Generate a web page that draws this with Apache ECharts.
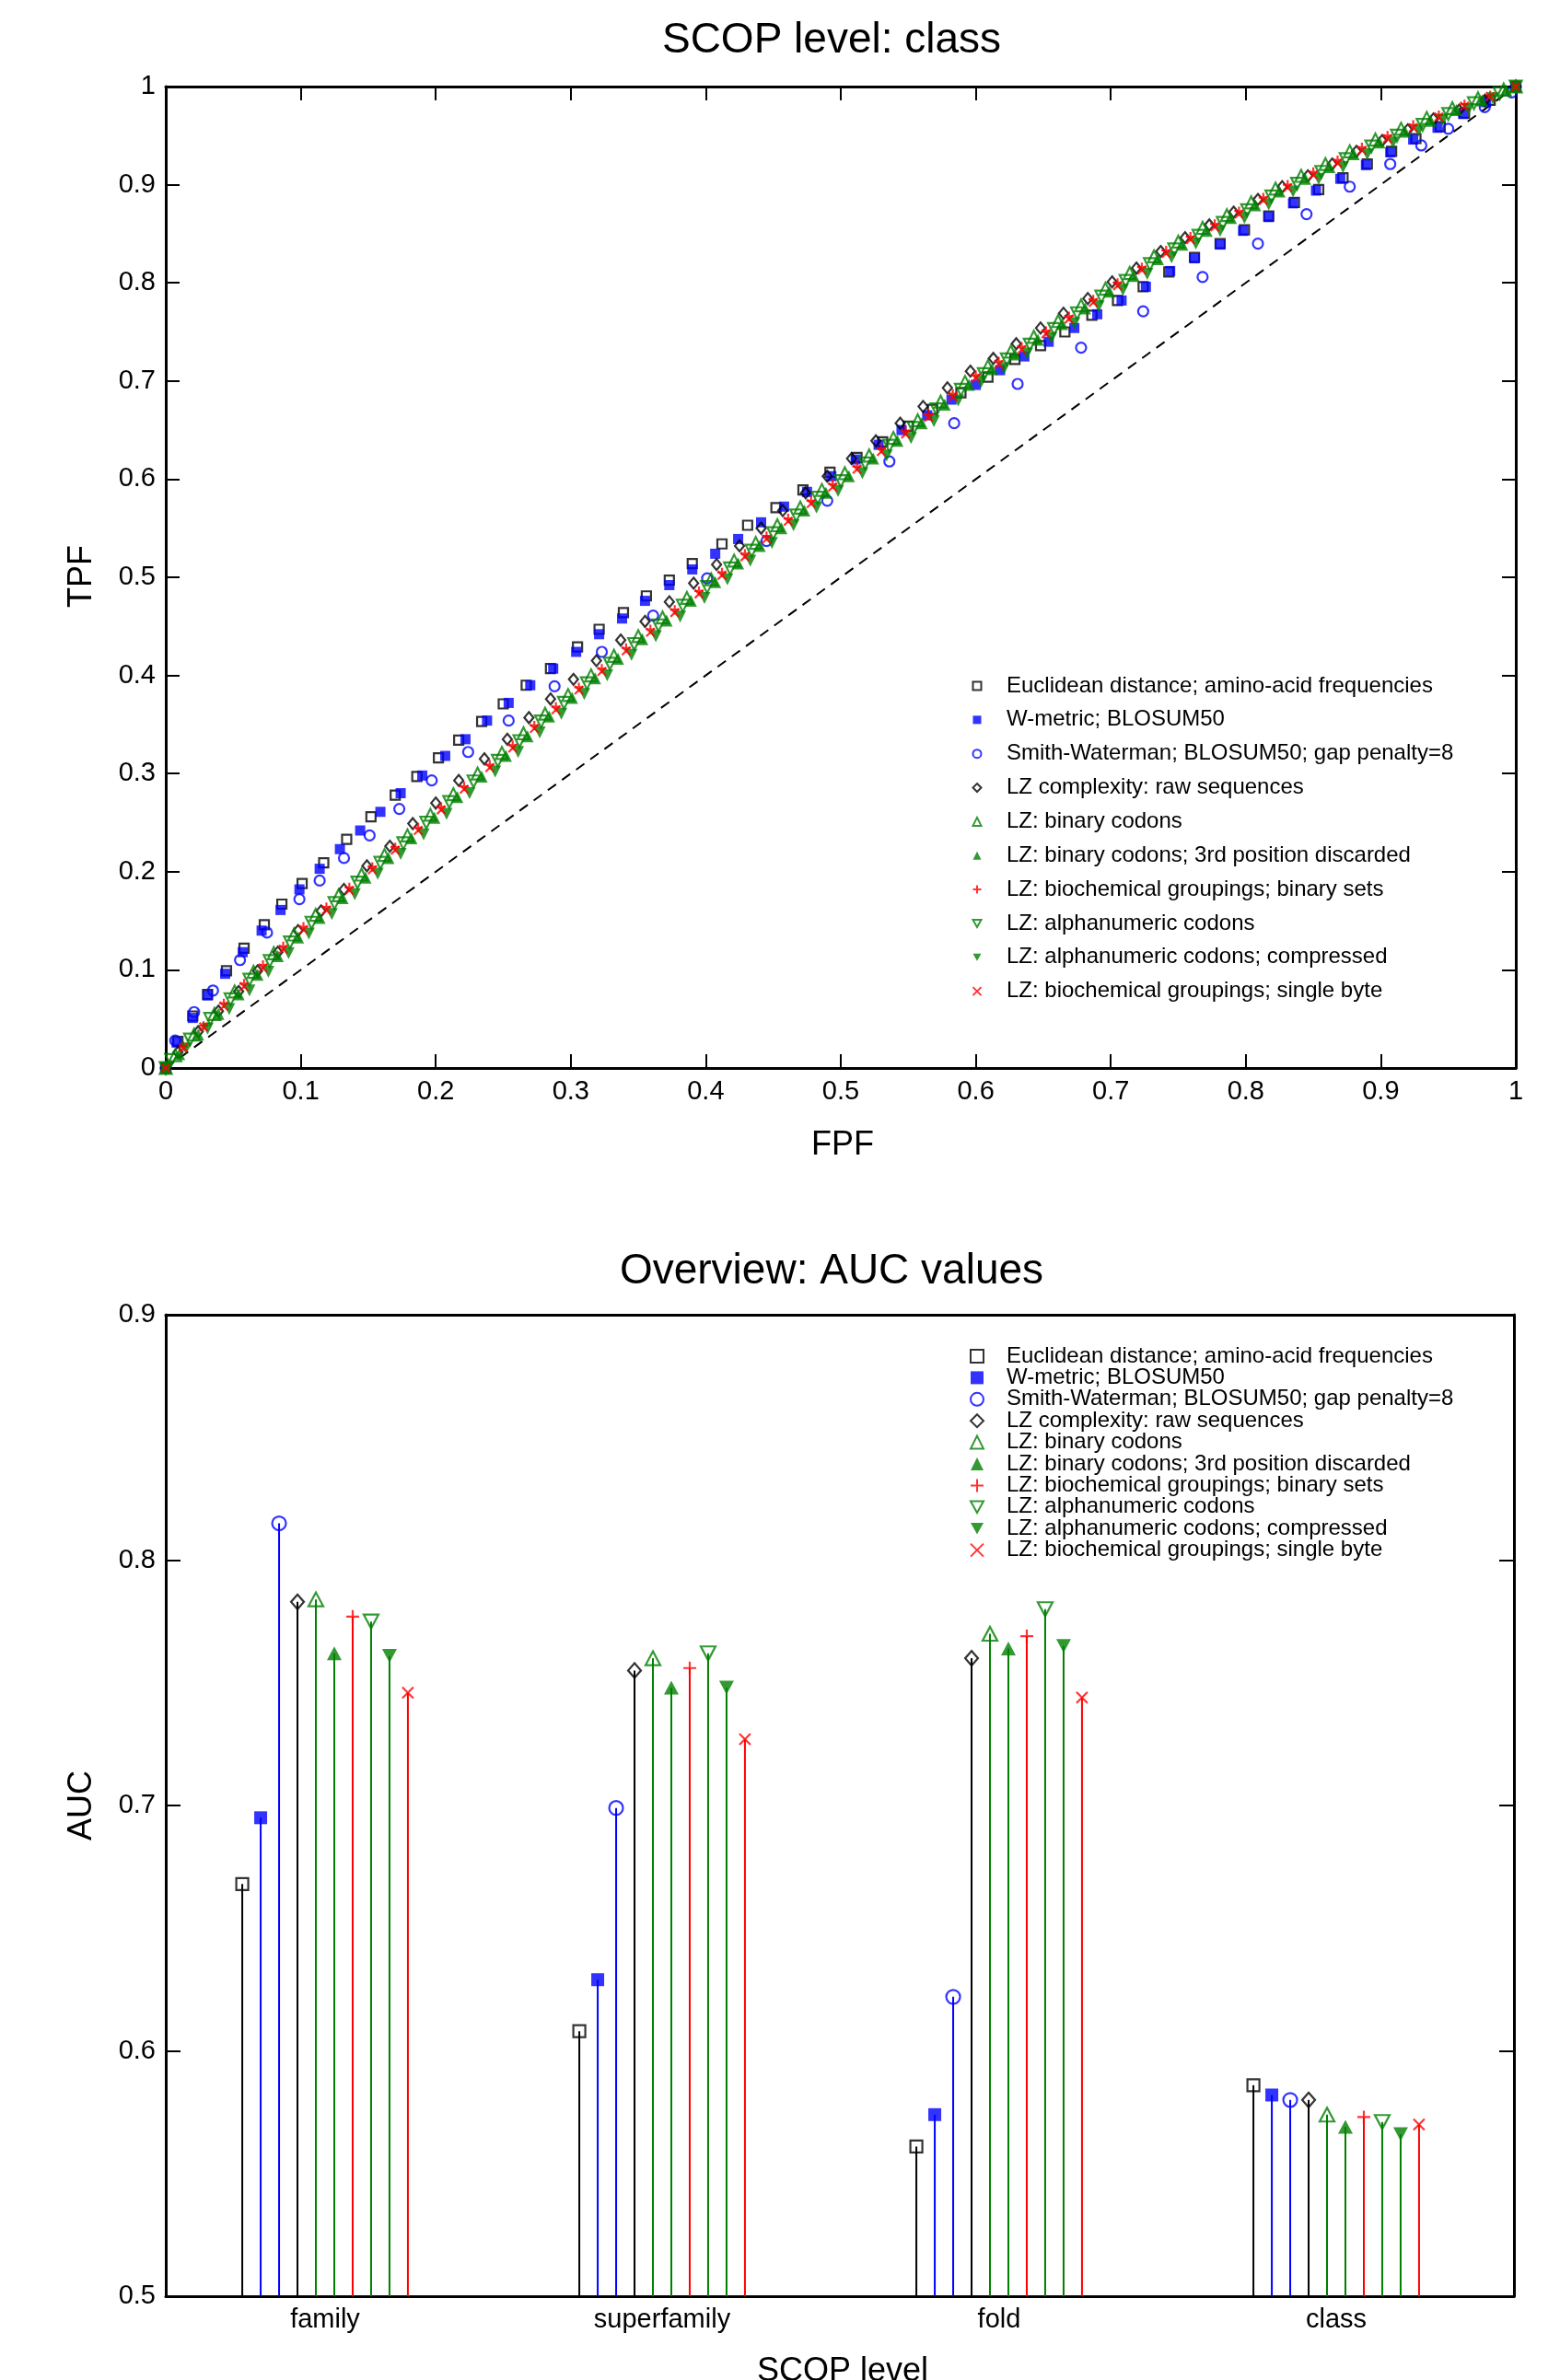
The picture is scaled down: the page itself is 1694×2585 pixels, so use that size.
<!DOCTYPE html>
<html lang="en">
<head>
<meta charset="UTF-8" />
<title>SCOP level: class / AUC overview</title>
<script src="https://cdn.jsdelivr.net/npm/echarts@6/dist/echarts.min.js"></script>
<style>
  html, body { margin: 0; padding: 0; background: #fff; }
  #chart { width: 1694px; height: 2585px; }
</style>
</head>
<body>
<div id="chart"></div>
<script>
// method names (legend order)
const methods = [
  "Euclidean distance; amino-acid frequencies",
  "W-metric; BLOSUM50",
  "Smith-Waterman; BLOSUM50; gap penalty=8",
  "LZ complexity: raw sequences",
  "LZ: binary codons",
  "LZ: binary codons; 3rd position discarded",
  "LZ: biochemical groupings; binary sets",
  "LZ: alphanumeric codons",
  "LZ: alphanumeric codons; compressed",
  "LZ: biochemical groupings; single byte"
];
const levels = ["family", "superfamily", "fold", "class"];

// ROC points [FPF, TPF], SCOP level: class
const rocEuclid = [[0,0],[0.009,0.027],[0.020,0.053],[0.031,0.075],[0.045,0.099],[0.058,0.122],[0.073,0.146],[0.086,0.167],[0.101,0.188],[0.117,0.209],[0.134,0.233],[0.152,0.256],[0.170,0.278],[0.186,0.297],[0.202,0.316],[0.217,0.334],[0.234,0.353],[0.250,0.371],[0.267,0.390],[0.285,0.407],[0.305,0.429],[0.321,0.447],[0.339,0.464],[0.356,0.481],[0.373,0.497],[0.390,0.514],[0.412,0.534],[0.431,0.553],[0.452,0.571],[0.472,0.589],[0.492,0.607],[0.512,0.622],[0.531,0.638],[0.550,0.654],[0.568,0.671],[0.589,0.688],[0.609,0.704],[0.629,0.722],[0.648,0.736],[0.666,0.750],[0.686,0.767],[0.705,0.782],[0.724,0.796],[0.743,0.811],[0.762,0.826],[0.781,0.840],[0.799,0.854],[0.817,0.868],[0.836,0.882],[0.854,0.895],[0.872,0.907],[0.890,0.921],[0.908,0.934],[0.926,0.947],[0.944,0.959],[0.962,0.973],[0.981,0.986],[1,1]];
const rocWmetric = [[0,0],[0.008,0.026],[0.020,0.051],[0.031,0.074],[0.044,0.096],[0.057,0.118],[0.071,0.140],[0.085,0.161],[0.099,0.182],[0.114,0.203],[0.129,0.223],[0.144,0.242],[0.159,0.261],[0.174,0.280],[0.190,0.298],[0.207,0.318],[0.222,0.335],[0.238,0.354],[0.254,0.372],[0.270,0.390],[0.287,0.407],[0.304,0.424],[0.321,0.442],[0.338,0.458],[0.355,0.476],[0.373,0.492],[0.390,0.508],[0.407,0.524],[0.424,0.539],[0.441,0.556],[0.458,0.572],[0.475,0.587],[0.493,0.603],[0.511,0.620],[0.528,0.635],[0.545,0.650],[0.564,0.665],[0.582,0.681],[0.600,0.696],[0.618,0.711],[0.636,0.725],[0.654,0.740],[0.673,0.754],[0.690,0.768],[0.708,0.782],[0.726,0.796],[0.744,0.812],[0.762,0.825],[0.781,0.839],[0.798,0.853],[0.817,0.867],[0.835,0.881],[0.852,0.894],[0.870,0.906],[0.889,0.920],[0.907,0.933],[0.924,0.946],[0.942,0.958],[0.961,0.972],[0.978,0.984],[1,1]];
const rocSW = [[0,0],[0.007,0.028],[0.021,0.057],[0.035,0.079],[0.055,0.110],[0.075,0.138],[0.099,0.172],[0.114,0.191],[0.132,0.214],[0.151,0.237],[0.173,0.264],[0.197,0.293],[0.224,0.322],[0.254,0.354],[0.288,0.389],[0.323,0.424],[0.361,0.461],[0.401,0.499],[0.445,0.537],[0.490,0.578],[0.536,0.618],[0.584,0.657],[0.631,0.697],[0.678,0.734],[0.724,0.771],[0.768,0.806],[0.809,0.840],[0.845,0.870],[0.877,0.898],[0.907,0.921],[0.930,0.940],[0.950,0.957],[0.977,0.979],[0.997,0.994],[1,1]];
const rocLZraw = [[0,0],[0.009,0.016],[0.024,0.037],[0.039,0.058],[0.054,0.078],[0.068,0.099],[0.083,0.118],[0.098,0.140],[0.115,0.160],[0.132,0.182],[0.149,0.206],[0.166,0.226],[0.183,0.249],[0.200,0.270],[0.217,0.293],[0.236,0.315],[0.253,0.335],[0.269,0.357],[0.285,0.376],[0.302,0.396],[0.319,0.415],[0.337,0.436],[0.355,0.455],[0.373,0.475],[0.391,0.494],[0.408,0.513],[0.425,0.532],[0.441,0.550],[0.457,0.568],[0.474,0.586],[0.490,0.603],[0.508,0.621],[0.526,0.639],[0.544,0.657],[0.561,0.674],[0.579,0.693],[0.596,0.710],[0.613,0.723],[0.630,0.738],[0.648,0.754],[0.665,0.769],[0.683,0.784],[0.701,0.801],[0.719,0.815],[0.737,0.832],[0.755,0.846],[0.773,0.859],[0.791,0.872],[0.809,0.885],[0.827,0.898],[0.846,0.909],[0.864,0.921],[0.882,0.934],[0.901,0.945],[0.920,0.956],[0.939,0.967],[0.958,0.976],[0.977,0.986],[1,1]];
const rocLZbin = [[0,0],[0.007,0.013],[0.021,0.034],[0.036,0.055],[0.051,0.078],[0.065,0.098],[0.080,0.117],[0.095,0.136],[0.111,0.156],[0.128,0.176],[0.145,0.197],[0.162,0.217],[0.179,0.237],[0.196,0.258],[0.213,0.279],[0.231,0.300],[0.249,0.321],[0.265,0.341],[0.281,0.361],[0.298,0.380],[0.315,0.400],[0.332,0.420],[0.350,0.440],[0.368,0.459],[0.386,0.479],[0.404,0.498],[0.421,0.517],[0.437,0.535],[0.453,0.553],[0.470,0.571],[0.486,0.589],[0.503,0.606],[0.521,0.624],[0.539,0.642],[0.557,0.660],[0.574,0.679],[0.592,0.699],[0.609,0.715],[0.626,0.730],[0.643,0.745],[0.661,0.761],[0.678,0.777],[0.696,0.794],[0.714,0.810],[0.732,0.827],[0.750,0.842],[0.768,0.856],[0.786,0.869],[0.804,0.882],[0.822,0.896],[0.841,0.909],[0.859,0.921],[0.877,0.934],[0.896,0.946],[0.915,0.957],[0.934,0.968],[0.953,0.978],[0.972,0.988],[0.991,0.997],[1,1]];
const rocLZbin3 = [[0,0],[0.010,0.014],[0.024,0.034],[0.039,0.055],[0.054,0.075],[0.068,0.095],[0.083,0.114],[0.098,0.133],[0.114,0.153],[0.131,0.173],[0.148,0.194],[0.165,0.214],[0.182,0.234],[0.199,0.255],[0.216,0.276],[0.234,0.297],[0.252,0.318],[0.268,0.338],[0.284,0.358],[0.301,0.377],[0.318,0.397],[0.335,0.417],[0.353,0.437],[0.371,0.456],[0.389,0.476],[0.407,0.495],[0.424,0.514],[0.440,0.532],[0.456,0.550],[0.473,0.568],[0.489,0.586],[0.506,0.603],[0.524,0.621],[0.542,0.639],[0.560,0.657],[0.577,0.676],[0.595,0.696],[0.612,0.712],[0.629,0.727],[0.646,0.742],[0.664,0.758],[0.681,0.774],[0.699,0.791],[0.717,0.807],[0.735,0.824],[0.753,0.839],[0.771,0.853],[0.789,0.866],[0.807,0.879],[0.825,0.893],[0.844,0.906],[0.862,0.918],[0.880,0.931],[0.899,0.943],[0.918,0.954],[0.937,0.965],[0.956,0.976],[0.975,0.986],[0.993,0.996],[1,1]];
const rocLZbioBin = [[0,0],[0.013,0.022],[0.028,0.043],[0.043,0.066],[0.058,0.086],[0.072,0.105],[0.087,0.124],[0.102,0.144],[0.119,0.164],[0.136,0.184],[0.153,0.205],[0.170,0.225],[0.187,0.245],[0.204,0.266],[0.221,0.287],[0.240,0.309],[0.257,0.329],[0.273,0.349],[0.289,0.368],[0.306,0.388],[0.323,0.407],[0.341,0.428],[0.359,0.447],[0.377,0.467],[0.395,0.486],[0.412,0.505],[0.429,0.524],[0.445,0.542],[0.461,0.560],[0.478,0.578],[0.494,0.595],[0.512,0.613],[0.530,0.631],[0.548,0.649],[0.565,0.666],[0.583,0.687],[0.600,0.706],[0.617,0.720],[0.634,0.735],[0.652,0.751],[0.669,0.766],[0.687,0.783],[0.705,0.800],[0.723,0.816],[0.741,0.833],[0.759,0.847],[0.777,0.860],[0.795,0.873],[0.813,0.887],[0.831,0.900],[0.850,0.913],[0.868,0.925],[0.886,0.938],[0.905,0.950],[0.924,0.961],[0.943,0.971],[0.962,0.982],[0.981,0.991],[1,1]];
const rocLZalpha = [[0,0],[0.004,0.008],[0.018,0.029],[0.033,0.050],[0.048,0.070],[0.062,0.090],[0.077,0.109],[0.092,0.128],[0.108,0.148],[0.125,0.168],[0.142,0.189],[0.159,0.209],[0.176,0.229],[0.193,0.250],[0.210,0.271],[0.228,0.292],[0.246,0.313],[0.262,0.333],[0.278,0.353],[0.295,0.372],[0.312,0.392],[0.329,0.412],[0.347,0.432],[0.365,0.451],[0.383,0.471],[0.401,0.490],[0.418,0.509],[0.434,0.527],[0.450,0.545],[0.467,0.563],[0.483,0.581],[0.500,0.598],[0.518,0.616],[0.536,0.634],[0.554,0.652],[0.571,0.671],[0.589,0.691],[0.606,0.707],[0.623,0.722],[0.640,0.737],[0.658,0.753],[0.675,0.769],[0.693,0.786],[0.711,0.802],[0.729,0.819],[0.747,0.834],[0.765,0.848],[0.783,0.861],[0.801,0.874],[0.819,0.888],[0.838,0.901],[0.856,0.913],[0.874,0.926],[0.893,0.939],[0.912,0.950],[0.931,0.961],[0.950,0.972],[0.969,0.983],[0.988,0.993],[1,1]];
const rocLZalphaComp = [[0,0],[0.015,0.020],[0.031,0.040],[0.047,0.060],[0.062,0.079],[0.076,0.098],[0.091,0.117],[0.106,0.137],[0.123,0.157],[0.140,0.177],[0.157,0.198],[0.174,0.218],[0.191,0.238],[0.208,0.259],[0.225,0.280],[0.244,0.302],[0.261,0.322],[0.277,0.342],[0.293,0.361],[0.310,0.381],[0.327,0.400],[0.345,0.421],[0.363,0.440],[0.381,0.460],[0.399,0.479],[0.416,0.498],[0.433,0.517],[0.449,0.535],[0.465,0.553],[0.482,0.571],[0.498,0.588],[0.516,0.606],[0.534,0.624],[0.552,0.642],[0.569,0.659],[0.587,0.680],[0.604,0.699],[0.621,0.713],[0.638,0.728],[0.656,0.744],[0.673,0.759],[0.691,0.776],[0.709,0.793],[0.727,0.809],[0.745,0.826],[0.763,0.840],[0.781,0.853],[0.799,0.866],[0.817,0.880],[0.835,0.893],[0.854,0.906],[0.872,0.918],[0.890,0.931],[0.909,0.943],[0.928,0.955],[0.946,0.966],[0.965,0.977],[0.983,0.988],[1,1]];
const rocLZbioByte = [[0,0],[0.013,0.021],[0.028,0.042],[0.043,0.063],[0.058,0.083],[0.072,0.102],[0.087,0.121],[0.102,0.141],[0.119,0.161],[0.136,0.181],[0.153,0.202],[0.170,0.222],[0.187,0.242],[0.204,0.263],[0.221,0.284],[0.240,0.306],[0.257,0.326],[0.273,0.346],[0.289,0.365],[0.306,0.385],[0.323,0.404],[0.341,0.425],[0.359,0.444],[0.377,0.464],[0.395,0.483],[0.412,0.502],[0.429,0.521],[0.445,0.539],[0.461,0.557],[0.478,0.575],[0.494,0.592],[0.512,0.610],[0.530,0.628],[0.548,0.646],[0.565,0.663],[0.583,0.684],[0.600,0.703],[0.617,0.717],[0.634,0.732],[0.652,0.748],[0.669,0.763],[0.687,0.780],[0.705,0.797],[0.723,0.813],[0.741,0.830],[0.759,0.844],[0.777,0.857],[0.795,0.870],[0.813,0.884],[0.831,0.897],[0.850,0.910],[0.868,0.922],[0.886,0.935],[0.905,0.947],[0.924,0.958],[0.943,0.969],[0.962,0.980],[0.981,0.990],[1,1]];
const chanceLine = [[0,0],[1,1]];

// AUC values per level: family, superfamily, fold, class
const aucEuclid      = [0.668, 0.608, 0.561, 0.586];
const aucWmetric     = [0.695, 0.629, 0.574, 0.582];
const aucSW          = [0.815, 0.699, 0.622, 0.580];
const aucLZraw       = [0.783, 0.755, 0.760, 0.580];
const aucLZbin       = [0.784, 0.760, 0.770, 0.574];
const aucLZbin3      = [0.762, 0.748, 0.764, 0.569];
const aucLZbioBin    = [0.777, 0.756, 0.769, 0.573];
const aucLZalpha     = [0.775, 0.762, 0.780, 0.571];
const aucLZalphaComp = [0.761, 0.748, 0.765, 0.566];
const aucLZbioByte   = [0.746, 0.727, 0.744, 0.570];

const rocSets = [rocEuclid, rocWmetric, rocSW, rocLZraw, rocLZbin, rocLZbin3, rocLZbioBin, rocLZalpha, rocLZalphaComp, rocLZbioByte];
const aucSets = [aucEuclid, aucWmetric, aucSW, aucLZraw, aucLZbin, aucLZbin3, aucLZbioBin, aucLZalpha, aucLZalphaComp, aucLZbioByte];

// marker look for each method
const PLUS = "path://M5,0L5,10M0,5L10,5";
const CROSS = "path://M0,0L10,10M10,0L0,10";
const DOWN = "path://M0,0L10,0L5,9Z";
const BLACK = "#000000", BLUE = "#0000ff", GREEN = "#008000", RED = "#ff0000";
const marks = [
  { symbol: "rect", color: BLACK, kind: "hollow", small: 10, big: 13 },
  { symbol: "rect", color: BLUE, kind: "fill", small: 11, big: 14 },
  { symbol: "circle", color: BLUE, kind: "hollow", small: 11, big: 15 },
  { symbol: "diamond", color: BLACK, kind: "hollow", small: [10, 12], big: [14, 16] },
  { symbol: "triangle", color: GREEN, kind: "hollow", small: 13, big: [16, 15] },
  { symbol: "triangle", color: GREEN, kind: "fill", small: 13, big: [16, 15] },
  { symbol: PLUS, color: RED, kind: "stroke", small: 10, big: 14 },
  { symbol: DOWN, color: GREEN, kind: "hollow", small: 13, big: [16, 15] },
  { symbol: DOWN, color: GREEN, kind: "fill", small: 13, big: [16, 15] },
  { symbol: CROSS, color: RED, kind: "stroke", small: 9, big: 12 }
];

function markStyle(m) {
  if (m.kind === "hollow") return { color: "rgba(255,255,255,0)", borderColor: m.color, borderWidth: 2.2 };
  if (m.kind === "stroke") return { color: m.color, borderColor: m.color, borderWidth: 2.2 };
  return { color: m.color, borderWidth: 0 };
}

const FONT = '"Liberation Sans", Arial, Helvetica, sans-serif';
const GROUP_STEP = 0.0546; // spacing of the stems inside one level

function frameAxis(opt) {
  return Object.assign({
    type: "value",
    axisLine: { show: true, onZero: false, lineStyle: { color: "#000", width: 3 } },
    axisTick: { show: true, inside: true, length: 15, lineStyle: { color: "#000", width: 2 } },
    axisLabel: { show: false },
    splitLine: { show: false }
  }, opt);
}
const tickLabel = { show: true, fontSize: 29, color: "#000", fontFamily: FONT };

const series = [];
series.push({
  type: "line", xAxisIndex: 0, yAxisIndex: 0, data: chanceLine, symbol: "none", silent: true,
  lineStyle: { color: "#000", width: 2, type: [11, 8] }, z: 1
});
methods.forEach(function (name, i) {
  const m = marks[i];
  series.push({
    name: name, type: "scatter", xAxisIndex: 0, yAxisIndex: 0, clip: false,
    symbol: m.symbol, symbolSize: m.small, itemStyle: markStyle(m),
    data: rocSets[i], z: 3 + i
  });
});

// stems of the AUC plot
const stemData = [];
aucSets.forEach(function (vals, i) {
  vals.forEach(function (v, k) { stemData.push([k + 1 + (i - 5) * GROUP_STEP, v, i]); });
});
series.push({
  type: "custom", xAxisIndex: 2, yAxisIndex: 2, silent: true, z: 2,
  data: stemData,
  renderItem: function (params, api) {
    const top = api.coord([api.value(0), api.value(1)]);
    const bot = api.coord([api.value(0), 0.5]);
    return {
      type: "line",
      shape: { x1: top[0], y1: top[1], x2: bot[0], y2: bot[1] },
      style: { stroke: marks[api.value(2)].color, lineWidth: 2 }
    };
  }
});
methods.forEach(function (name, i) {
  const m = marks[i];
  series.push({
    name: name, type: "scatter", xAxisIndex: 2, yAxisIndex: 2, clip: false,
    symbol: m.symbol, symbolSize: m.big, itemStyle: markStyle(m),
    data: aucSets[i].map(function (v, k) { return [k + 1 + (i - 5) * GROUP_STEP, v]; }),
    z: 3 + i
  });
});

const legendText = { fontSize: 24, color: "#000", fontFamily: FONT };

const option = {
  animation: false,
  backgroundColor: "#fff",
  grid: [
    { left: 180, top: 94, width: 1466, height: 1066 },
    { left: 180, top: 1428, width: 1464, height: 1066 }
  ],
  xAxis: [
    frameAxis({ gridIndex: 0, position: "bottom", min: 0, max: 1, interval: 0.1,
      axisLabel: Object.assign({ margin: 11 }, tickLabel) }),
    frameAxis({ gridIndex: 0, position: "top", min: 0, max: 1, interval: 0.1 }),
    { gridIndex: 1, type: "value", min: 0.5, max: 4.5, show: false },
    { gridIndex: 1, type: "category", position: "bottom", data: levels,
      axisLine: { show: true, lineStyle: { color: "#000", width: 3 } },
      axisTick: { show: false }, splitLine: { show: false },
      axisLabel: Object.assign({ margin: 11, padding: [0, 20, 0, 0] }, tickLabel) },
    frameAxis({ gridIndex: 1, position: "top", min: 0, max: 1, axisTick: { show: false } })
  ],
  yAxis: [
    frameAxis({ gridIndex: 0, position: "left", min: 0, max: 1, interval: 0.1,
      axisLabel: Object.assign({ margin: 11 }, tickLabel) }),
    frameAxis({ gridIndex: 0, position: "right", min: 0, max: 1, interval: 0.1 }),
    frameAxis({ gridIndex: 1, position: "left", min: 0.5, max: 0.9, interval: 0.1,
      axisTick: { show: true, inside: true, length: 16, lineStyle: { color: "#000", width: 2 } },
      axisLabel: Object.assign({ margin: 11 }, tickLabel) }),
    frameAxis({ gridIndex: 1, position: "right", min: 0.5, max: 0.9, interval: 0.1,
      axisTick: { show: true, inside: true, length: 16, lineStyle: { color: "#000", width: 2 } } })
  ],
  legend: [
    { data: methods, orient: "vertical", left: 1055.5, top: 733, padding: 0, itemWidth: 9, itemHeight: 9,
      itemGap: 12.85, selectedMode: false,
      textStyle: Object.assign({ lineHeight: 24, padding: [0, 0, 0, 22.5] }, legendText) },
    { data: methods, orient: "vertical", left: 1053, top: 1461, padding: 0, itemWidth: 14, itemHeight: 14,
      itemGap: -0.6, selectedMode: false,
      textStyle: Object.assign({ lineHeight: 23, padding: [0, 0, 0, 20] }, legendText) }
  ],
  graphic: [
    { type: "text", x: 903, y: 44, style: { text: "SCOP level: class", align: "center", verticalAlign: "middle", font: "46px " + FONT, fill: "#000" } },
    { type: "text", x: 915, y: 1244, style: { text: "FPF", align: "center", verticalAlign: "middle", font: "36px " + FONT, fill: "#000" } },
    { type: "text", x: 89, y: 626, rotation: Math.PI / 2, style: { text: "TPF", align: "center", verticalAlign: "middle", font: "36px " + FONT, fill: "#000" } },
    { type: "text", x: 903, y: 1381, style: { text: "Overview: AUC values", align: "center", verticalAlign: "middle", font: "46px " + FONT, fill: "#000" } },
    { type: "text", x: 89, y: 1961, rotation: Math.PI / 2, style: { text: "AUC", align: "center", verticalAlign: "middle", font: "36px " + FONT, fill: "#000" } },
    { type: "text", x: 915, y: 2576, style: { text: "SCOP level", align: "center", verticalAlign: "middle", font: "36px " + FONT, fill: "#000" } }
  ],
  series: series
};

const chart = echarts.init(document.getElementById("chart"));
chart.setOption(option);
</script>
</body>
</html>
